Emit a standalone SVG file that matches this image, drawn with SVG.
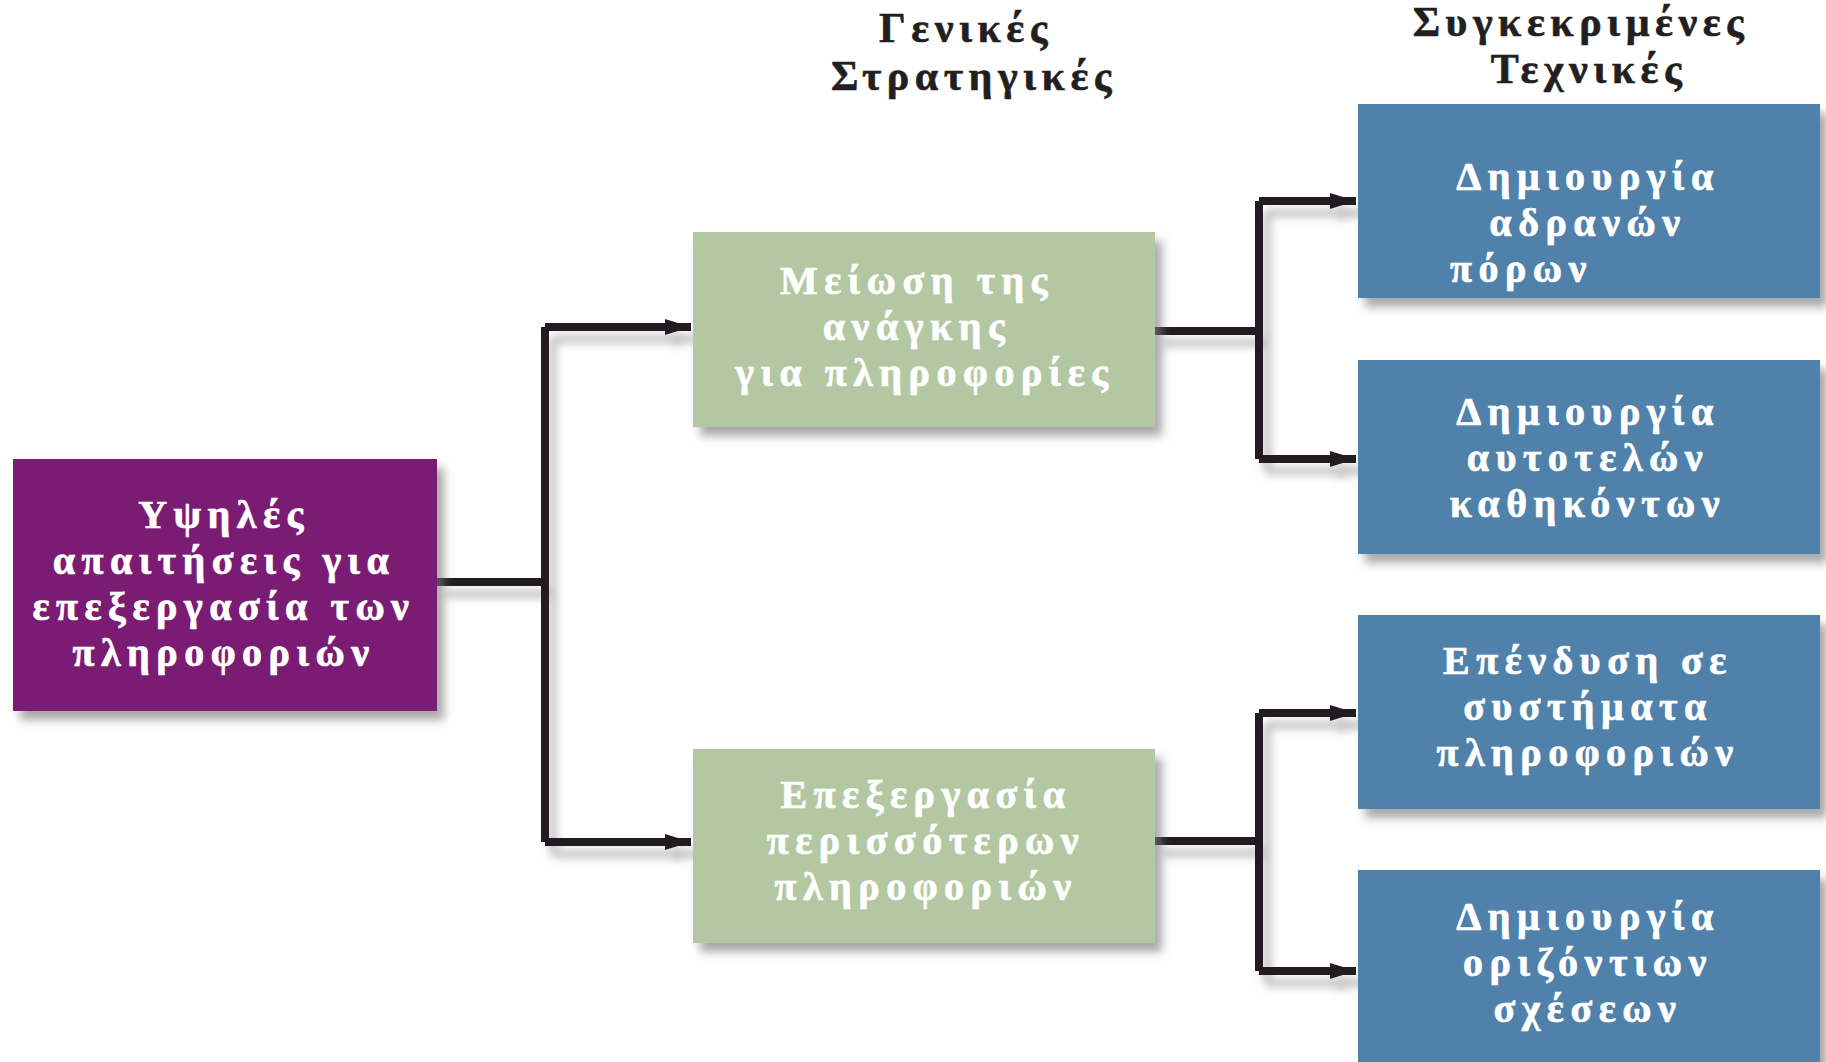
<svg xmlns="http://www.w3.org/2000/svg" width="1826" height="1062" viewBox="0 0 1826 1062">
<defs>
<filter id="sh" x="-10%" y="-10%" width="130%" height="140%">
<feDropShadow dx="7" dy="9" stdDeviation="5" flood-color="#7a7a7a" flood-opacity="0.65"/>
</filter>
<filter id="lsh" x="-20%" y="-20%" width="140%" height="140%">
<feDropShadow dx="8" dy="12" stdDeviation="4" flood-color="#8f8f8f" flood-opacity="0.55"/>
</filter>
<marker id="ah" viewBox="0 0 26 16" refX="26" refY="8" markerWidth="26" markerHeight="16" markerUnits="userSpaceOnUse" orient="auto">
<path d="M0,0 L26,8 L0,16 Z" fill="#231f20"/>
</marker>
<style>
.t{font-family:"Liberation Serif","Times New Roman",serif;font-weight:bold;font-size:40px;letter-spacing:6.5px;fill:#ffffff;stroke:#ffffff;stroke-width:0.7px;text-anchor:middle}
.h{font-family:"Liberation Serif","Times New Roman",serif;font-weight:bold;font-size:42px;letter-spacing:5.5px;fill:#231f20;stroke:#231f20;stroke-width:0.6px;text-anchor:middle}
.c{fill:none;stroke:#231f20;stroke-width:8}
.purple{fill:#7a1a73}
.green{fill:#b3c8a2}
.blue{fill:#5081aa}
</style>
</defs>
<rect width="1826" height="1062" fill="#ffffff"/>
<g id="headers">
<text class="h" x="966" y="42">Γενικές</text>
<text class="h" x="974" y="90">Στρατηγικές</text>
<text class="h" x="1581" y="36">Συγκεκριμένες</text>
<text class="h" x="1589" y="83">Τεχνικές</text>
</g>
<g id="connectors" filter="url(#lsh)">
<path class="c" d="M437,582 H545"/>
<path class="c" d="M545,327 V842"/>
<path class="c" d="M545,327 H691" marker-end="url(#ah)"/>
<path class="c" d="M545,842 H691" marker-end="url(#ah)"/>
<path class="c" d="M1155,331 H1259"/>
<path class="c" d="M1259,201 V459"/>
<path class="c" d="M1259,201 H1356" marker-end="url(#ah)"/>
<path class="c" d="M1259,459 H1356" marker-end="url(#ah)"/>
<path class="c" d="M1155,841 H1259"/>
<path class="c" d="M1259,713 V971"/>
<path class="c" d="M1259,713 H1356" marker-end="url(#ah)"/>
<path class="c" d="M1259,971 H1356" marker-end="url(#ah)"/>
</g>
<g id="n-high">
<rect class="purple" x="13" y="459" width="424" height="252" filter="url(#sh)"/>
<text class="t" x="224" y="528">Υψηλές</text>
<text class="t" x="224" y="574">απαιτήσεις για</text>
<text class="t" x="224" y="620">επεξεργασία των</text>
<text class="t" x="224" y="666">πληροφοριών</text>
</g>
<g id="n-reduce">
<rect class="green" x="693" y="232" width="462" height="195" filter="url(#sh)"/>
<text class="t" x="917" y="294">Μείωση της</text>
<text class="t" x="917" y="340">ανάγκης</text>
<text class="t" x="925" y="386">για πληροφορίες</text>
</g>
<g id="n-process">
<rect class="green" x="693" y="749" width="462" height="194" filter="url(#sh)"/>
<text class="t" x="926" y="808">Επεξεργασία</text>
<text class="t" x="926" y="854">περισσότερων</text>
<text class="t" x="926" y="900">πληροφοριών</text>
</g>
<g id="n-slack">
<rect class="blue" x="1358" y="104" width="462" height="194" filter="url(#sh)"/>
<text class="t" x="1588" y="190">Δημιουργία</text>
<text class="t" x="1588" y="236">αδρανών</text>
<text class="t" x="1450" y="282" style="text-anchor:start">πόρων</text>
</g>
<g id="n-selfcontained">
<rect class="blue" x="1358" y="360" width="462" height="194" filter="url(#sh)"/>
<text class="t" x="1588" y="425">Δημιουργία</text>
<text class="t" x="1588" y="471">αυτοτελών</text>
<text class="t" x="1588" y="517">καθηκόντων</text>
</g>
<g id="n-invest">
<rect class="blue" x="1358" y="615" width="462" height="194" filter="url(#sh)"/>
<text class="t" x="1588" y="674">Επένδυση σε</text>
<text class="t" x="1588" y="720">συστήματα</text>
<text class="t" x="1588" y="766">πληροφοριών</text>
</g>
<g id="n-lateral">
<rect class="blue" x="1358" y="870" width="462" height="200" filter="url(#sh)"/>
<text class="t" x="1588" y="930">Δημιουργία</text>
<text class="t" x="1588" y="976">οριζόντιων</text>
<text class="t" x="1588" y="1022">σχέσεων</text>
</g>
</svg>
